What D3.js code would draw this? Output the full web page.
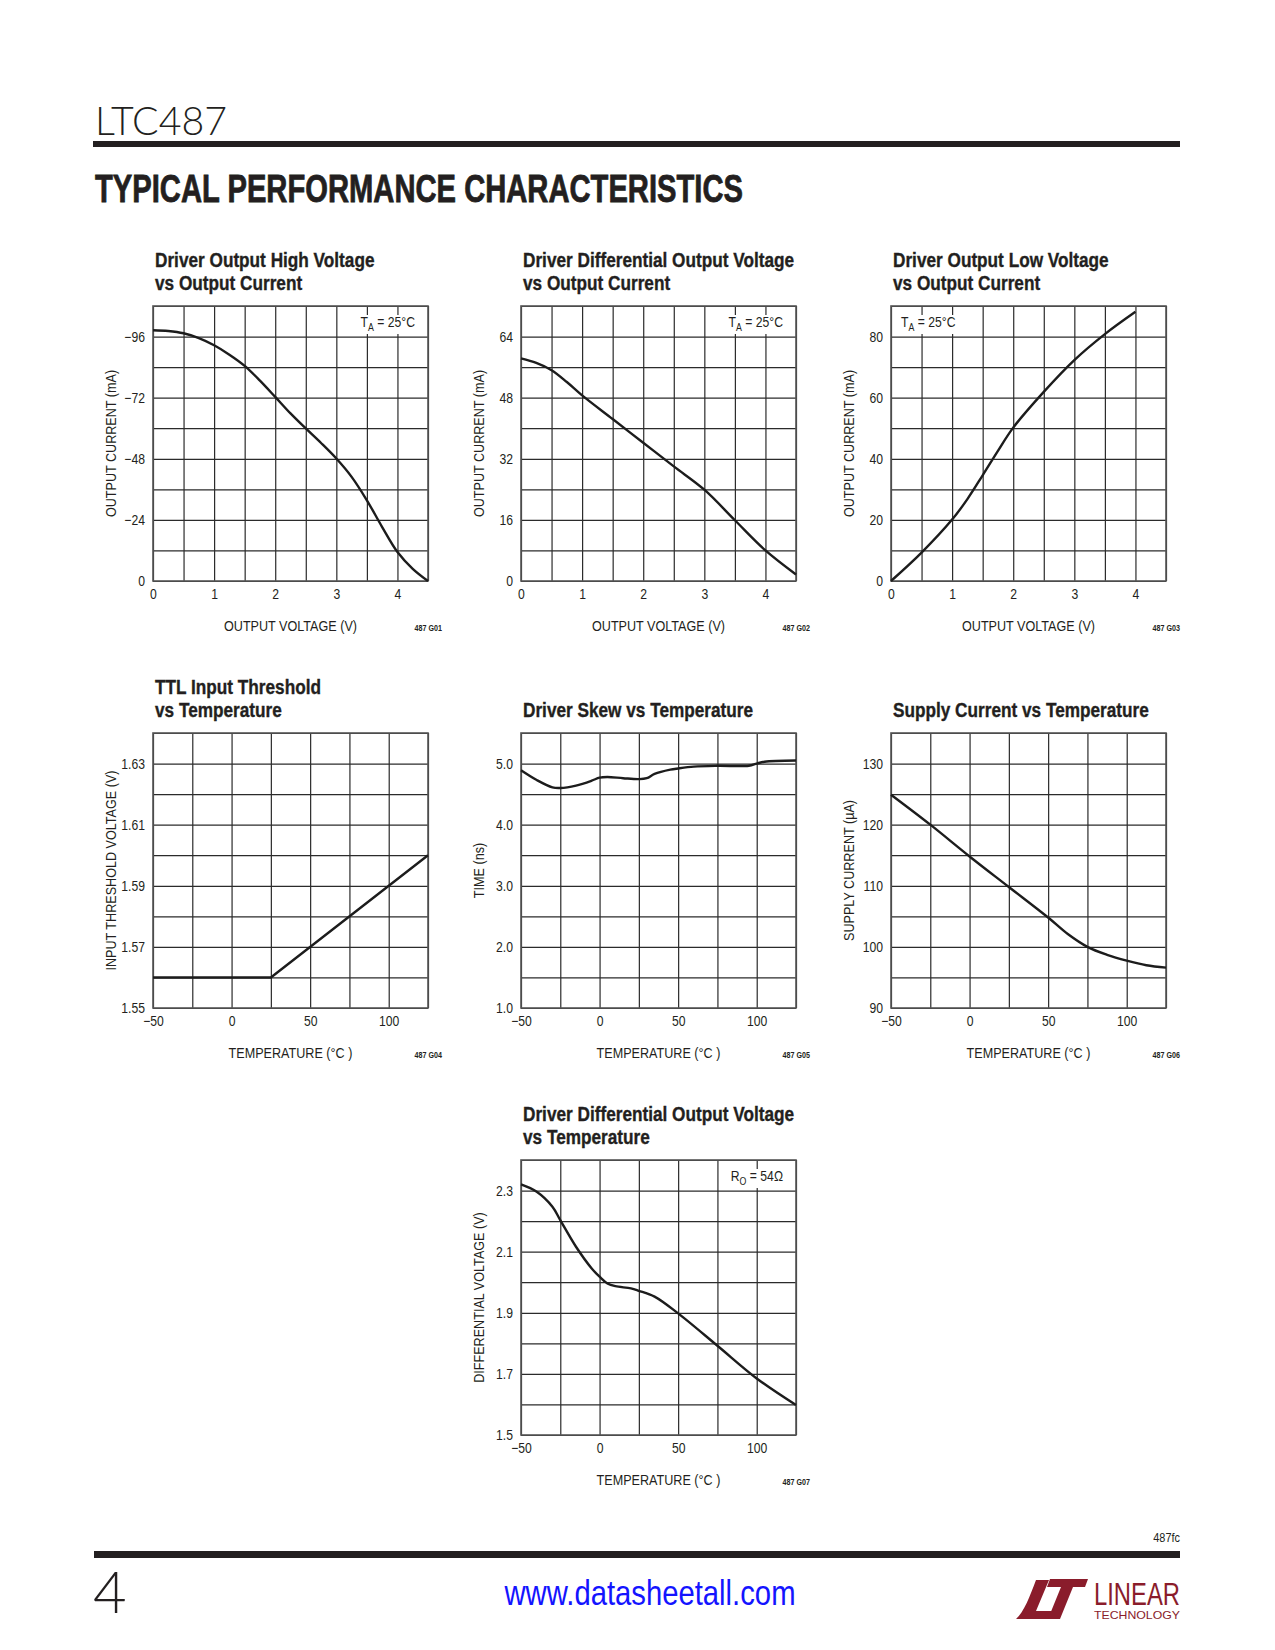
<!DOCTYPE html>
<html>
<head>
<meta charset="utf-8">
<script src="https://cdn.jsdelivr.net/npm/d3@7"></script>
<style>
body { margin: 0; background: #fff; }
svg { display: block; }
text { font-family: "Liberation Sans", Arial, sans-serif; fill: #231f20; }
</style>
</head>
<body>
<svg id="page" width="1275" height="1650" viewBox="0 0 1275 1650"></svg>
<script>
// ---- values ----

// G01 driver output high voltage vs output current
const g01_volts   = [0, 0.25, 0.5, 0.75, 1, 1.25, 1.5, 1.75, 2, 2.25, 2.5, 2.75, 3, 3.25, 3.5, 3.75, 4, 4.25, 4.5];
const g01_current = [-98.5, -98.2, -97.3, -95.4, -92.6, -88.9, -84.5, -78.7, -72.3, -65.8, -59.9, -54.2, -48.1, -40.9, -31.7, -21.2, -11.4, -4.8, 0];

// G02 driver differential output voltage vs output current
const g02_volts   = [0, 0.25, 0.5, 0.75, 1, 1.5, 2, 2.5, 3, 3.5, 4, 4.5];
const g02_current = [58.3, 57.1, 55.2, 52.1, 48.6, 42.4, 36.2, 30.0, 23.9, 15.9, 8.0, 1.7];

// G03 driver output low voltage vs output current
const g03_volts   = [0, 0.5, 1, 1.25, 1.5, 1.75, 2, 2.5, 3, 3.5, 4];
const g03_current = [0, 9.3, 20.1, 26.8, 34.6, 42.6, 50.2, 61.9, 72.3, 80.8, 88.1];

// G04 TTL input threshold vs temperature
const g04_temp      = [-50, 25, 125];
const g04_threshold = [1.56, 1.56, 1.60];

// G05 driver skew vs temperature
const g05_temp = [-50, -40, -30, -25, -15, -5, 0, 5, 15, 25, 30, 35, 45, 50, 60, 75, 95, 100, 105, 125];
const g05_skew = [4.89, 4.73, 4.61, 4.60, 4.64, 4.72, 4.77, 4.78, 4.76, 4.745, 4.76, 4.83, 4.90, 4.92, 4.95, 4.963, 4.965, 5.0, 5.03, 5.05];

// G06 supply current vs temperature
const g06_temp   = [-50, -25, 0, 25, 50, 62.5, 75, 87.5, 100, 112.5, 125];
const g06_supply = [124.9, 120.0, 114.8, 109.8, 104.8, 102.1, 100.0, 98.7, 97.75, 97.0, 96.6];

// G07 driver differential output voltage vs temperature
const g07_temp = [-50, -40, -30, -25, -15, -5, 0, 5, 10, 20, 25, 35, 50, 75, 100, 125];
const g07_diff = [2.32, 2.296, 2.247, 2.203, 2.116, 2.045, 2.018, 1.996, 1.987, 1.980, 1.972, 1.953, 1.898, 1.792, 1.685, 1.598];

// tick labels
const volt_ticks = [0, 1, 2, 3, 4];
const temp_ticks = [-50, 0, 50, 100];
const g01_ticks = [0, -24, -48, -72, -96];
const g02_ticks = [0, 16, 32, 48, 64];
const g03_ticks = [0, 20, 40, 60, 80];
const g04_ticks = [1.55, 1.57, 1.59, 1.61, 1.63];
const g05_ticks = [1, 2, 3, 4, 5];
const g06_ticks = [90, 100, 110, 120, 130];
const g07_ticks = [1.5, 1.7, 1.9, 2.1, 2.3];

// ---- layout ----
const colX = [153, 521, 891];
const rowY = [306, 733, 1160];
const plotW = 275, plotH = 275;
const NARROW = 0.84;   // squeeze Liberation Sans toward Helvetica Condensed

const svg = d3.select("#page");

// en dash for negatives, like the datasheet
const dash = f => v => f(v).replace("-", "\u2013");

// squeeze each text in a selection to k of its natural width
function condense(sel, k) {
  sel.each(function () {
    const w = this.getComputedTextLength();
    if (w > 0) d3.select(this).attr("textLength", w * k).attr("lengthAdjust", "spacingAndGlyphs");
  });
}

const charts = [
  { id: "487 G01", title: ["Driver Output High Voltage", "vs Output Current"], col: 0, row: 0,
    xs: g01_volts, ys: g01_current, xDomain: [0, 4.5], yDomain: [0, -108], xStep: 0.5, yStep: 12,
    xLabels: volt_ticks, yLabels: g01_ticks, xFmt: d3.format("d"), yFmt: dash(d3.format("d")),
    xTitle: "OUTPUT VOLTAGE (V)", yTitle: "OUTPUT CURRENT (mA)", note: ["T", "A", " = 25\u00b0C"], noteSide: "right" },
  { id: "487 G02", title: ["Driver Differential Output Voltage", "vs Output Current"], col: 1, row: 0,
    xs: g02_volts, ys: g02_current, xDomain: [0, 4.5], yDomain: [0, 72], xStep: 0.5, yStep: 8,
    xLabels: volt_ticks, yLabels: g02_ticks, xFmt: d3.format("d"), yFmt: d3.format("d"),
    xTitle: "OUTPUT VOLTAGE (V)", yTitle: "OUTPUT CURRENT (mA)", note: ["T", "A", " = 25\u00b0C"], noteSide: "right" },
  { id: "487 G03", title: ["Driver Output Low Voltage", "vs Output Current"], col: 2, row: 0,
    xs: g03_volts, ys: g03_current, xDomain: [0, 4.5], yDomain: [0, 90], xStep: 0.5, yStep: 10,
    xLabels: volt_ticks, yLabels: g03_ticks, xFmt: d3.format("d"), yFmt: d3.format("d"),
    xTitle: "OUTPUT VOLTAGE (V)", yTitle: "OUTPUT CURRENT (mA)", note: ["T", "A", " = 25\u00b0C"], noteSide: "left" },
  { id: "487 G04", title: ["TTL Input Threshold", "vs Temperature"], col: 0, row: 1,
    xs: g04_temp, ys: g04_threshold, xDomain: [-50, 125], yDomain: [1.55, 1.64], xStep: 25, yStep: 0.01,
    xLabels: temp_ticks, yLabels: g04_ticks, xFmt: dash(d3.format("d")), yFmt: d3.format(".2f"),
    xTitle: "TEMPERATURE (\u00b0C )", yTitle: "INPUT THRESHOLD VOLTAGE (V)", straight: true },
  { id: "487 G05", title: ["Driver Skew vs Temperature"], col: 1, row: 1,
    xs: g05_temp, ys: g05_skew, xDomain: [-50, 125], yDomain: [1, 5.5], xStep: 25, yStep: 0.5,
    xLabels: temp_ticks, yLabels: g05_ticks, xFmt: dash(d3.format("d")), yFmt: d3.format(".1f"),
    xTitle: "TEMPERATURE (\u00b0C )", yTitle: "TIME (ns)" },
  { id: "487 G06", title: ["Supply Current vs Temperature"], col: 2, row: 1,
    xs: g06_temp, ys: g06_supply, xDomain: [-50, 125], yDomain: [90, 135], xStep: 25, yStep: 5,
    xLabels: temp_ticks, yLabels: g06_ticks, xFmt: dash(d3.format("d")), yFmt: d3.format("d"),
    xTitle: "TEMPERATURE (\u00b0C )", yTitle: "SUPPLY CURRENT (\u00b5A)" },
  { id: "487 G07", title: ["Driver Differential Output Voltage", "vs Temperature"], col: 1, row: 2,
    xs: g07_temp, ys: g07_diff, xDomain: [-50, 125], yDomain: [1.5, 2.4], xStep: 25, yStep: 0.1,
    xLabels: temp_ticks, yLabels: g07_ticks, xFmt: dash(d3.format("d")), yFmt: d3.format(".1f"),
    xTitle: "TEMPERATURE (\u00b0C )", yTitle: "DIFFERENTIAL VOLTAGE (V)", note: ["R", "O", " = 54\u03a9"], noteSide: "right" }
];

function gridValues(domain, step) {
  const lo = Math.min(domain[0], domain[1]), hi = Math.max(domain[0], domain[1]);
  return d3.range(lo, hi + step / 2, step);
}

function drawChart(c) {
  const left = colX[c.col], top = rowY[c.row];
  const g = svg.append("g").attr("transform", `translate(${left},${top})`);

  const x = d3.scaleLinear().domain(c.xDomain).range([0, plotW]);
  const y = d3.scaleLinear().domain(c.yDomain).range([plotH, 0]);

  // grid lines
  g.append("g").attr("class", "grid").attr("transform", `translate(0,${plotH})`)
    .call(d3.axisBottom(x).tickValues(gridValues(c.xDomain, c.xStep)).tickSize(-plotH).tickFormat(""));
  g.append("g").attr("class", "grid")
    .call(d3.axisLeft(y).tickValues(gridValues(c.yDomain, c.yStep)).tickSize(-plotW).tickFormat(""));
  g.selectAll(".grid .domain").remove();
  g.selectAll(".grid line").attr("stroke", "#2b2b2b").attr("stroke-width", 1.2);

  // frame
  g.append("rect").attr("width", plotW).attr("height", plotH)
    .attr("fill", "none").attr("stroke", "#555").attr("stroke-width", 1.6);

  // tick labels
  const xa = g.append("g").attr("transform", `translate(0,${plotH})`)
    .call(d3.axisBottom(x).tickValues(c.xLabels).tickSize(0).tickPadding(8).tickFormat(c.xFmt));
  const ya = g.append("g")
    .call(d3.axisLeft(y).tickValues(c.yLabels).tickSize(0).tickPadding(8).tickFormat(c.yFmt));
  [xa, ya].forEach(a => {
    a.attr("font-family", null).attr("font-size", 14.5);
    a.select(".domain").remove();
    a.selectAll("text").attr("fill", "#231f20");
    condense(a.selectAll("text"), NARROW);
  });

  // the curve
  const pts = c.xs.map((v, i) => [v, c.ys[i]]);
  const line = d3.line()
    .x(d => x(d[0]))
    .y(d => y(d[1]))
    .curve(c.straight ? d3.curveLinear : d3.curveCatmullRom.alpha(0.5));
  g.append("path").datum(pts).attr("d", line)
    .attr("fill", "none").attr("stroke", "#1c1c1c").attr("stroke-width", 2.4)
    .attr("stroke-linejoin", "round");

  // condition note, on a white patch over the grid
  if (c.note) {
    const ng = g.append("g");
    const patch = ng.append("rect").attr("fill", "#fff");
    const nt = ng.append("text").attr("y", 21).attr("font-size", 14.5);
    nt.append("tspan").text(c.note[0]);
    nt.append("tspan").attr("font-size", 10.5).attr("dy", 4).text(c.note[1]);
    nt.append("tspan").attr("dy", -4).text(c.note[2]);
    condense(nt, NARROW);
    if (c.noteSide == "right") {
      nt.attr("x", plotW - 13).attr("text-anchor", "end");
    } else {
      nt.attr("x", 10);
    }
    const bb = nt.node().getBBox();
    patch.attr("x", bb.x - 3).attr("y", bb.y + 1).attr("width", bb.width + 6).attr("height", bb.height);
  }

  // titles (a hairline stroke to thicken them toward the heavy original)
  c.title.forEach((s, i) => {
    const yy = c.title.length == 2 && i == 0 ? -39 : -16;
    const t = g.append("text").attr("x", 2).attr("y", yy)
      .attr("font-weight", "bold").attr("font-size", 20)
      .attr("stroke", "#231f20").attr("stroke-width", 0.35).text(s);
    condense(t, 0.86);
  });

  // axis titles
  const xt = g.append("text").attr("x", plotW / 2).attr("y", plotH + 50)
    .attr("text-anchor", "middle").attr("font-size", 15).text(c.xTitle);
  const yt = g.append("text").attr("transform", `translate(-42,${plotH / 2}) rotate(-90)`)
    .attr("dy", "0.35em").attr("text-anchor", "middle").attr("font-size", 15).text(c.yTitle);
  condense(xt, NARROW);
  condense(yt, NARROW);

  const id = g.append("text").attr("x", plotW + 14).attr("y", plotH + 50)
    .attr("text-anchor", "end").attr("font-size", 8.5).attr("font-weight", "bold").text(c.id);
  condense(id, NARROW);
}

charts.forEach(drawChart);

// ---- page header ----
svg.append("text").attr("x", 95).attr("y", 135)
  .style("font-family", "Lato, 'DejaVu Sans', sans-serif").attr("font-weight", 300)
  .attr("font-size", 39).attr("textLength", 132).attr("lengthAdjust", "spacingAndGlyphs")
  .text("LTC487");
svg.append("rect").attr("x", 93).attr("y", 141).attr("width", 1087).attr("height", 6).attr("fill", "#231f20");
svg.append("text").attr("x", 95).attr("y", 202)
  .attr("font-weight", "bold").attr("font-size", 39)
  .attr("stroke", "#231f20").attr("stroke-width", 0.8)
  .attr("textLength", 648).attr("lengthAdjust", "spacingAndGlyphs")
  .text("TYPICAL PERFORMANCE CHARACTERISTICS");

// ---- page footer ----
const fc = svg.append("text").attr("x", 1180).attr("y", 1542).attr("text-anchor", "end").attr("font-size", 13).text("487fc");
condense(fc, NARROW);
svg.append("rect").attr("x", 94).attr("y", 1551).attr("width", 1086).attr("height", 7).attr("fill", "#231f20");
svg.append("text").attr("x", 93).attr("y", 1613)
  .style("font-family", "Lato, 'DejaVu Sans', sans-serif").attr("font-weight", 300)
  .attr("font-size", 58).text("4");
svg.append("text").attr("x", 650).attr("y", 1605).attr("text-anchor", "middle")
  .attr("font-size", 35).attr("textLength", 291).attr("lengthAdjust", "spacingAndGlyphs")
  .style("fill", "#1414ff").text("www.datasheetall.com");

// Linear Technology mark
const logo = svg.append("g").attr("fill", "#8a1c2b");
logo.append("path").attr("d", "M1036,1580 L1049,1580 L1036,1611 L1058,1611 L1055,1619 L1016,1619 C1024,1612 1030,1596 1036,1580 Z");
logo.append("path").attr("d", "M1050,1579 L1088,1579 L1085,1587 L1073,1587 L1060,1619 L1048,1619 L1061,1587 L1047,1587 Z");
svg.append("text").attr("x", 1094).attr("y", 1605).attr("font-size", 31)
  .attr("textLength", 86).attr("lengthAdjust", "spacingAndGlyphs")
  .style("fill", "#8a1c2b").text("LINEAR");
svg.append("text").attr("x", 1094).attr("y", 1619).attr("font-size", 11)
  .attr("textLength", 86).attr("lengthAdjust", "spacingAndGlyphs")
  .style("fill", "#8a1c2b").text("TECHNOLOGY");
</script>
</body>
</html>
